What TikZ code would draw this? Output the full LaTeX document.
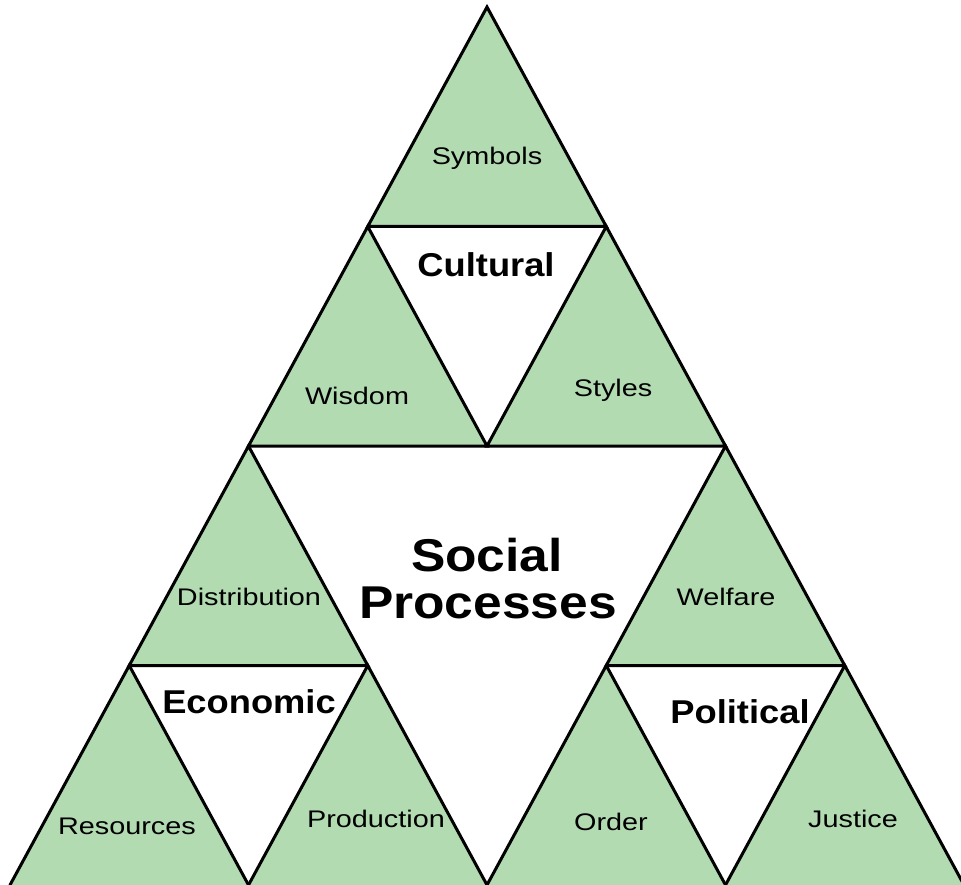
\documentclass[tikz,border=0pt]{standalone}
\usepackage{fontspec}
\setmainfont{Liberation Sans}
\newfontfamily\regfont[FakeStretch=1.2]{Liberation Sans}
\newfontfamily\boldfont[FakeStretch=1.1]{Liberation Sans}
\newfontfamily\bigfont[FakeStretch=1.12]{Liberation Sans}
\definecolor{leaf}{RGB}{178,219,178}
\begin{document}
\begin{tikzpicture}[x=1pt,y=-1pt,
  trifill/.style={fill=leaf},
  triedge/.style={draw=black,line width=3pt,line join=miter,line cap=round},
  small/.style={font=\regfont\fontsize{24}{28}\selectfont,anchor=base,inner sep=0pt},
  group/.style={font=\boldfont\bfseries\fontsize{33}{38}\selectfont,anchor=base,inner sep=0pt},
  big/.style={font=\bigfont\bfseries\fontsize{46}{50}\selectfont,anchor=base,inner sep=0pt}]
\useasboundingbox (0,0) rectangle (961,885);
\clip (0,0) rectangle (961,885);
\fill[white] (0,0) rectangle (961,885);
\foreach \i in {0,...,4}{
  \foreach \j in {0,...,\i}{
    \coordinate (p\i\j) at ({487+(2*\j-\i)*119.25},{7+219.5*\i});
  }
}
\foreach \i/\j in {0/0,1/0,1/1,2/0,3/0,3/1,2/2,3/2,3/3}{
  \pgfmathtruncatemacro\ii{\i+1}
  \pgfmathtruncatemacro\jj{\j+1}
  \fill[trifill] (p\i\j) -- (p\ii\j) -- (p\ii\jj) -- cycle;
  \ifnum\i<3
    \draw[triedge] (p\i\j) -- (p\ii\j) -- (p\ii\jj) -- cycle;
  \else
    \draw[triedge] (p\ii\j) -- (p\i\j) -- (p\ii\jj);
  \fi
}
% labels
\node[small] (symbols) at (487,165) {Symbols};
\node[group] (cultural) at (486,277) {Cultural};
\node[small] (wisdom) at (357,404) {Wisdom};
\node[small] (styles) at (613,396) {Styles};
\node[big] (social) at (487,571) {Social};
\node[big] (processes) at (488,618) {Processes};
\node[small] (distribution) at (249,605) {Distribution};
\node[small] (welfare) at (726,605) {Welfare};
\node[group] (economic) at (249,713) {Economic};
\node[group] (political) at (740,723) {Political};
\node[small] (resources) at (127,834) {Resources};
\node[small] (production) at (376,827) {Production};
\node[small] (order) at (611,830) {Order};
\node[small] (justice) at (853,827) {Justice};
\end{tikzpicture}
\end{document}
